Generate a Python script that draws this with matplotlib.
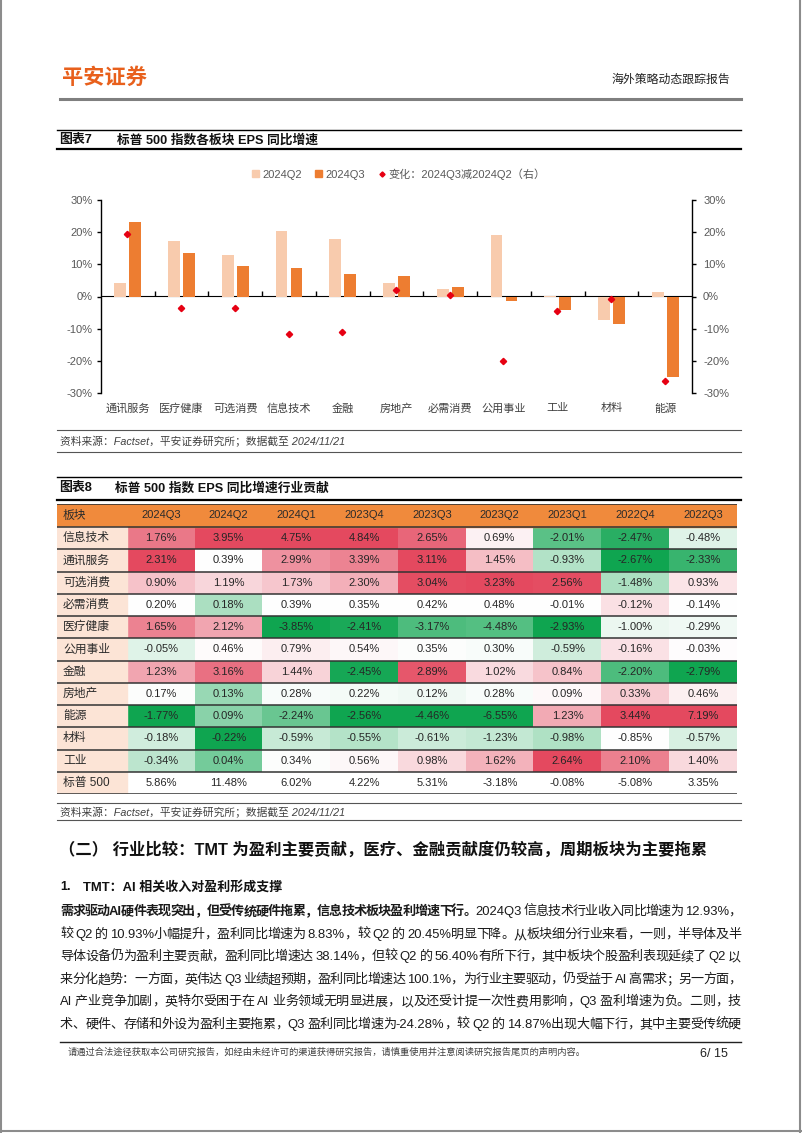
import re
import numpy as np
import matplotlib
matplotlib.use('Agg')
import matplotlib.pyplot as plt
from matplotlib.colors import LinearSegmentedColormap, TwoSlopeNorm
from matplotlib.lines import Line2D
from matplotlib.patches import Patch, Rectangle

plt.rcParams['font.family'] = ['Liberation Sans', 'Noto Sans CJK SC', 'DejaVu Sans']

# chart 7: EPS yoy growth by sector (%)
sectors = ['通讯服务', '医疗健康', '可选消费', '信息技术', '金融', '房地产',
           '必需消费', '公用事业', '工业', '材料', '能源']
eps_q2 = [4.1, 17.4, 12.9, 20.4, 17.9, 4.1, 2.3, 19.0, 0.2, -7.4, 1.3]
eps_q3 = [23.3, 13.5, 9.5, 8.8, 7.0, 6.4, 2.8, -1.5, -4.3, -8.4, -25.0]
eps_chg = [19.3, -3.6, -3.6, -11.7, -10.9, 2.1, 0.4, -20.2, -4.5, -0.7, -26.2]

# chart 8: contribution to S&P 500 EPS growth (%)
tab_cols = ['2024Q3', '2024Q2', '2024Q1', '2023Q4', '2023Q3', '2023Q2', '2023Q1', '2022Q4', '2022Q3']
tab_rows = ['信息技术', '通讯服务', '可选消费', '必需消费', '医疗健康', '公用事业',
            '金融', '房地产', '能源', '材料', '工业']
tab_vals = np.array([
    [1.76, 3.95, 4.75, 4.84, 2.65, 0.69, -2.01, -2.47, -0.48],
    [2.31, 0.39, 2.99, 3.39, 3.11, 1.45, -0.93, -2.67, -2.33],
    [0.90, 1.19, 1.73, 2.30, 3.04, 3.23, 2.56, -1.48, 0.93],
    [0.20, 0.18, 0.39, 0.35, 0.42, 0.48, -0.01, -0.12, -0.14],
    [1.65, 2.12, -3.85, -2.41, -3.17, -4.48, -2.93, -1.00, -0.29],
    [-0.05, 0.46, 0.79, 0.54, 0.35, 0.30, -0.59, -0.16, -0.03],
    [1.23, 3.16, 1.44, -2.45, 2.89, 1.02, 0.84, -2.20, -2.79],
    [0.17, 0.13, 0.28, 0.22, 0.12, 0.28, 0.09, 0.33, 0.46],
    [-1.77, 0.09, -2.24, -2.56, -4.46, -6.55, 1.23, 3.44, 7.19],
    [-0.18, -0.22, -0.59, -0.55, -0.61, -1.23, -0.98, -0.85, -0.57],
    [-0.34, 0.04, 0.34, 0.56, 0.98, 1.62, 2.64, 2.10, 1.40],
])
total_label = '标普 500'
total_vals = [5.86, 11.48, 6.02, 4.22, 5.31, -3.18, -0.08, -5.08, 3.35]

para_lines = [
    [('需求驱动AI硬件表现突出，但受传统硬件拖累，信息技术板块盈利增速下行。', True),
     ('2024Q3 信息技术行业收入同比增速为 12.93%，', False)],
    [('较 Q2 的 10.93%小幅提升，盈利同比增速为 8.83%，较 Q2 的 20.45%明显下降。从板块细分行业来看，一则，半导体及半', False)],
    [('导体设备仍为盈利主要贡献，盈利同比增速达 38.14%，但较 Q2 的 56.40%有所下行，其中板块个股盈利表现延续了 Q2 以', False)],
    [('来分化趋势：一方面，英伟达 Q3 业绩超预期，盈利同比增速达 100.1%，为行业主要驱动，仍受益于 AI 高需求；另一方面，', False)],
    [('AI 产业竞争加剧，英特尔受困于在 AI 业务领域无明显进展，以及还受计提一次性费用影响，Q3 盈利增速为负。二则，技', False)],
    [('术、硬件、存储和外设为盈利主要拖累，Q3 盈利同比增速为-24.28%，较 Q2 的 14.87%出现大幅下行，其中主要受传统硬', False)],
]

W, H = 802, 1133
fig = plt.figure(figsize=(W / 100, H / 100), dpi=100)
renderer = fig.canvas.get_renderer()


def fx(px):
    return px / W


def fy(py):
    return 1 - py / H


def hline(y, x0, x1, lw=1.0, color='black'):
    fig.add_artist(Line2D([fx(x0), fx(x1)], [fy(y), fy(y)], lw=lw, color=color))


def fit_text(x, y, s, width, size=9, **kw):
    t = fig.text(fx(x), fy(y), s, fontsize=size, va='center', ha='left', **kw)
    w = t.get_window_extent(renderer).width
    t.set_fontsize(size * width / w)
    return t


def justify(y, segs, x0=60, x1=741, size=9.4, color='#1a1a1a'):
    toks = []
    for s, bold in segs:
        for m in re.finditer(r'[A-Za-z0-9.%\-]+| |.', s):
            toks.append((m.group(), bold))
    arts, widths = [], []
    for t, b in toks:
        if t == ' ':
            arts.append(None)
            widths.append(3.0)
            continue
        a = fig.text(0, fy(y), t, fontsize=size, va='center', ha='left', color=color,
                     fontweight='bold' if b else 'normal')
        arts.append(a)
        widths.append(a.get_window_extent(renderer).width)
    gap = (x1 - x0 - sum(widths)) / (len(toks) - 1)
    pos = x0
    for a, w in zip(arts, widths):
        if a is not None:
            a.set_x(fx(pos))
        pos += w + gap


# page frame + header
fig.add_artist(Line2D([fx(1), fx(1)], [0, 1], lw=1.5, color='#8c8c8c'))
fig.add_artist(Line2D([fx(800), fx(800)], [0, 1], lw=1.5, color='#8c8c8c'))
hline(1131, 0, 802, lw=1.5, color='#8c8c8c')
fit_text(62, 78, '平安证券', 85, size=15, color='#E8601C', fontweight='bold')
fit_text(612, 80, '海外策略动态跟踪报告', 118, size=8.5, color='#222222')
hline(99, 60, 741, lw=2.2, color='#7f7f7f')

# chart 7 title
hline(130, 57, 741, lw=1.0)
hline(149, 57, 741, lw=1.6)
fit_text(59, 140, '图表7', 33, size=9, fontweight='bold', color='#111111')
t7 = fit_text(117, 140, '标普 500 指数各板块 EPS 同比增速', 201, size=9,
              fontweight='bold', color='#111111')

# chart 7 axes
ax = fig.add_axes([fx(101), fy(393), fx(692) - fx(101), fy(200) - fy(393)])
x = np.arange(len(sectors))
ax.bar(x - 0.14, eps_q2, 0.22, color='#F8CBAD', zorder=2)
ax.bar(x + 0.14, eps_q3, 0.22, color='#ED7D31', zorder=2)
ax.set_xlim(-0.5, len(sectors) - 0.5)
ax.set_ylim(-30, 30)
ax.set_yticks(np.arange(-30, 31, 10))
ax.set_yticklabels([f'{v}%' for v in range(-30, 31, 10)])
ax.set_xticks(x)
ax.set_xticklabels(sectors)
ax.tick_params(axis='x', length=0, pad=7.5, labelsize=8, labelcolor='#404040')
ax.tick_params(axis='y', length=3, width=1, pad=3, labelsize=8, labelcolor='#595959')
for s in ['top', 'right', 'bottom']:
    ax.spines[s].set_visible(False)
ax.spines['left'].set_linewidth(1)

sec = ax.secondary_xaxis(0.5)
sec.set_xticks(np.arange(0.5, len(sectors) - 1, 1))
sec.set_xticklabels([])
sec.tick_params(axis='x', direction='out', length=3.5, width=1)
sec.spines['bottom'].set_linewidth(1)

ax2 = ax.twinx()
ax2.plot(x - 0.01, eps_chg, ls='none', marker='D', ms=3.2, color='#E60012', zorder=3)
ax2.set_ylim(-30, 30)
ax2.set_yticks(np.arange(-30, 31, 10))
ax2.set_yticklabels([f'{v}%' for v in range(-30, 31, 10)])
ax2.tick_params(axis='y', length=3, width=1, pad=5, labelsize=8, labelcolor='#595959')
for s in ['top', 'left', 'bottom']:
    ax2.spines[s].set_visible(False)
ax2.spines['right'].set_linewidth(1)

handles = [Patch(color='#F8CBAD'), Patch(color='#ED7D31'),
           Line2D([], [], ls='none', marker='D', ms=2.6, color='#E60012')]
labels = ['2024Q2', '2024Q3', '变化：2024Q3减2024Q2（右）']
leg = fig.legend(handles, labels, loc='center', bbox_to_anchor=(fx(399), fy(174)), ncol=3,
                 frameon=False, fontsize=8, handlelength=0.6, handleheight=0.6,
                 handletextpad=0.3, columnspacing=1.2)
for t in leg.get_texts():
    t.set_color('#595959')

hline(430, 57, 741, lw=0.8, color='#555555')
fit_text(60, 441, '资料来源：Factset，平安证券研究所；数据截至 2024/11/21', 285, size=8,
         style='italic', color='#404040')
hline(452, 57, 741, lw=0.8, color='#555555')

# chart 8 title
hline(477, 57, 741, lw=1.0)
hline(500, 57, 741, lw=1.6)
fit_text(59, 488, '图表8', 33, size=9, fontweight='bold', color='#111111')
fig.text(fx(115), fy(488), '标普 500 指数 EPS 同比增速行业贡献', fontsize=t7.get_fontsize(),
         fontweight='bold', color='#111111', va='center', ha='left')

# chart 8 table
tab = fig.add_axes([fx(57), fy(794), fx(737) - fx(57), fy(504) - fy(794)])
tab.axis('off')
lab_w = 70.0
col_w = (680 - lab_w) / len(tab_cols)
head_h = 23.0
row_h = (290 - head_h) / (len(tab_rows) + 1)

cmap = LinearSegmentedColormap.from_list('gwr', ['#0FA550', '#FFFFFF', '#E4495F'])
rgba = np.zeros(tab_vals.shape + (4,))
for j in range(tab_vals.shape[1]):
    col = tab_vals[:, j]
    norm = TwoSlopeNorm(vmin=col.min(), vcenter=np.median(col), vmax=col.max())
    rgba[:, j] = cmap(norm(col))
tab.imshow(rgba, extent=(lab_w, 680, head_h + row_h * len(tab_rows), head_h),
           aspect='auto', interpolation='nearest', zorder=1)
tab.set_xlim(0, 680)
tab.set_ylim(290, 0)

tab.add_patch(Rectangle((0, 0), 680, head_h, color='#F08A3C', zorder=1))
tab.add_patch(Rectangle((0, head_h), lab_w, 290 - head_h, color='#FCE4D6', zorder=1))

tab.text(6, head_h / 2, '板块', fontsize=8.5, va='center', ha='left', color='#2b2b2b', zorder=3)
for j, c in enumerate(tab_cols):
    tab.text(lab_w + col_w * (j + 0.5), head_h / 2, c, fontsize=8, va='center', ha='center',
             color='#2b2b2b', zorder=3)
all_rows = tab_rows + [total_label]
all_vals = np.vstack([tab_vals, total_vals])
for i, r in enumerate(all_rows):
    yc = head_h + row_h * (i + 0.5)
    tab.text(6, yc, r, fontsize=8.5, va='center', ha='left', color='#2b2b2b', zorder=3)
    for j in range(len(tab_cols)):
        tab.text(lab_w + col_w * (j + 0.5), yc, f'{all_vals[i, j]:.2f}%', fontsize=8,
                 va='center', ha='center', color='#262626', zorder=3)
for k in range(len(all_rows) + 1):
    tab.axhline(head_h + row_h * k, color='#333333', lw=1.1, zorder=4)
tab.axhline(0, color='#333333', lw=1.2, zorder=4)

hline(803, 57, 741, lw=0.8, color='#555555')
fit_text(60, 812, '资料来源：Factset，平安证券研究所；数据截至 2024/11/21', 285, size=8,
         style='italic', color='#404040')
hline(820, 57, 741, lw=0.8, color='#555555')

# body text
fit_text(59, 849, '（二） 行业比较：TMT 为盈利主要贡献，医疗、金融贡献度仍较高，周期板块为主要拖累', 645,
         size=12, fontweight='bold', color='#111111')
fig.text(fx(60), fy(887), '1.', fontsize=9, fontweight='bold', va='center', ha='left', color='#111111')
fit_text(83, 887, 'TMT：AI 相关收入对盈利形成支撑', 199, size=9, fontweight='bold', color='#111111')

para_y = [912, 935, 957, 980, 1002, 1025]
for yy, segs in zip(para_y, para_lines):
    justify(yy, segs)

# footer
hline(1042, 60, 741, lw=1.0, color='#222222')
fit_text(68, 1052, '请通过合法途径获取本公司研究报告，如经由未经许可的渠道获得研究报告，请慎重使用并注意阅读研究报告尾页的声明内容。',
         518, size=6.5, color='#404040')
fig.text(fx(728), fy(1054), '6/ 15', fontsize=9, va='center', ha='right', color='#222222')

fig.savefig('out.png', dpi=100)
